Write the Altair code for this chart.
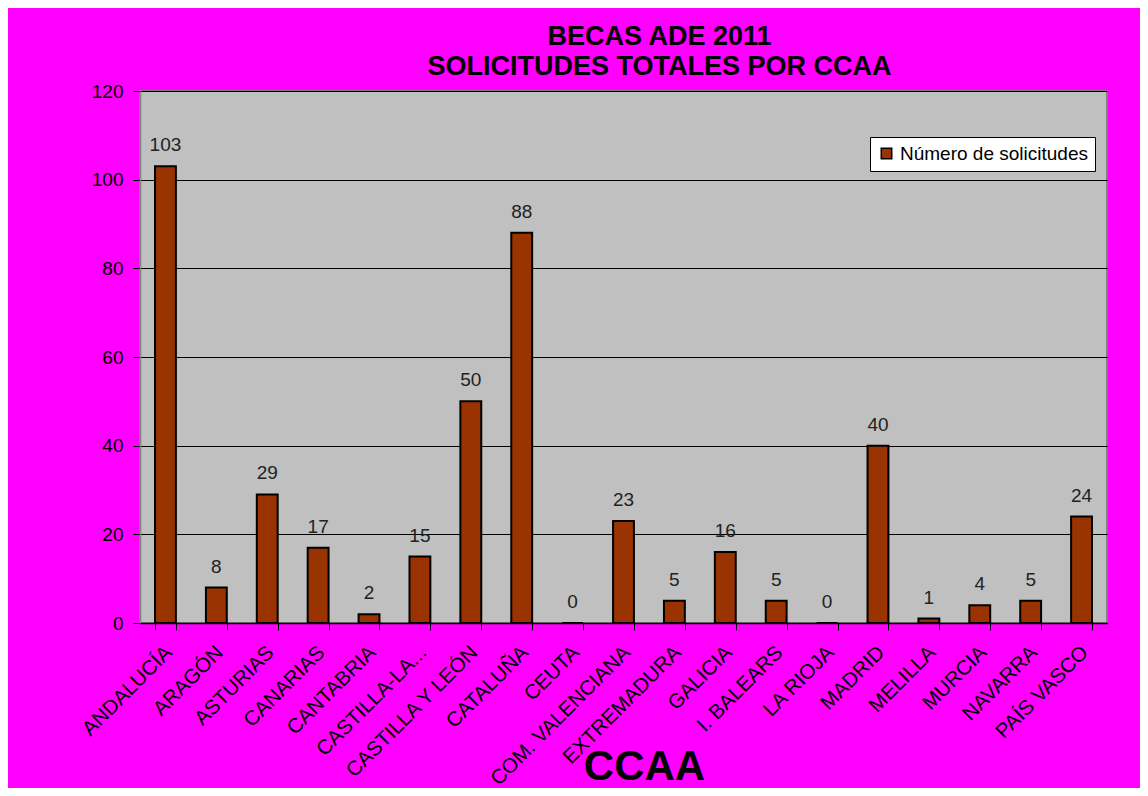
import altair as alt
import pandas as pd

categorias = ["ANDALUCÍA", "ARAGÓN", "ASTURIAS", "CANARIAS", "CANTABRIA",
              "CASTILLA-LA...", "CASTILLA Y LEÓN", "CATALUÑA", "CEUTA",
              "COM. VALENCIANA", "EXTREMADURA", "GALICIA", "I. BALEARS",
              "LA RIOJA", "MADRID", "MELILLA", "MURCIA", "NAVARRA", "PAÍS VASCO"]
solicitudes = [103, 8, 29, 17, 2, 15, 50, 88, 0, 23, 5, 16, 5, 0, 40, 1, 4, 5, 24]
serie = "Número de solicitudes"
y_ticks = [0, 20, 40, 60, 80, 100, 120]
titulo = ["BECAS ADE 2011", "SOLICITUDES TOTALES POR CCAA"]

df = pd.DataFrame({"ccaa": categorias, "n": solicitudes, "serie": [serie] * len(categorias)})

FONT = "Liberation Sans"

x_enc = alt.X(
    "ccaa:N", sort=categorias,
    scale=alt.Scale(paddingInner=0.59, paddingOuter=0.295),
    axis=alt.Axis(
        title="CCAA", titleFontSize=42, titleFont=FONT, titleFontWeight="bold",
        titleColor="black", titleX=504, titleY=156, titleAlign="center",
        titleBaseline="alphabetic",
        labelAngle=-45, labelAlign="right", labelBaseline="top",
        labelFontSize=20.5, labelFont=FONT, labelColor="black",
        labelPadding=12, labelOffset=-4, labelLimit=400,
        tickBand="extent", ticks=True, tickSize=7, tickColor="black",
        domainColor="black", domainWidth=1.5, grid=False,
    ),
)
y_enc = alt.Y(
    "n:Q",
    scale=alt.Scale(domain=[0, 120], nice=False),
    axis=alt.Axis(
        title=None, values=y_ticks, labelFontSize=19, labelFont=FONT,
        labelColor="black", tickSize=7, tickColor="black", labelPadding=10,
        domainColor="#808080", domainWidth=1.5,
        grid=True, gridColor="black", gridWidth=1,
    ),
)

base = alt.Chart(df)

bars = base.mark_bar(stroke="black", strokeWidth=2).encode(
    x=x_enc, y=y_enc,
    color=alt.Color(
        "serie:N", scale=alt.Scale(range=["#993300"]),
        legend=alt.Legend(
            title=None, orient="none", legendX=730, legendY=46,
            fillColor="white", strokeColor="black", padding=7,
            symbolType="square", symbolSize=110, symbolStrokeColor="black",
            symbolStrokeWidth=1.5, labelFontSize=19, labelFont=FONT,
            labelColor="black", symbolOpacity=1, labelLimit=400,
        ),
    ),
)

labels = base.mark_text(
    dy=-15, baseline="alphabetic", fontSize=19, font=FONT, color="#222222"
).encode(x=x_enc, y=y_enc, text="n:Q")

chart = alt.layer(bars, labels).properties(
    width=967, height=532,
    title=alt.Title(
        text=titulo, fontSize=27, font=FONT, fontWeight="bold", color="black",
        lineHeight=30, anchor="middle", dx=36, offset=1,
    ),
    padding={"left": 132, "top": 83, "right": 33, "bottom": 165},
    autosize=alt.AutoSizeParams(type="none"),
    background="#FF00FF",
).configure_view(
    fill="#C0C0C0", stroke="#808080", strokeWidth=2
)

chart.save("out.html", embed_options={"renderer": "svg", "actions": False})
